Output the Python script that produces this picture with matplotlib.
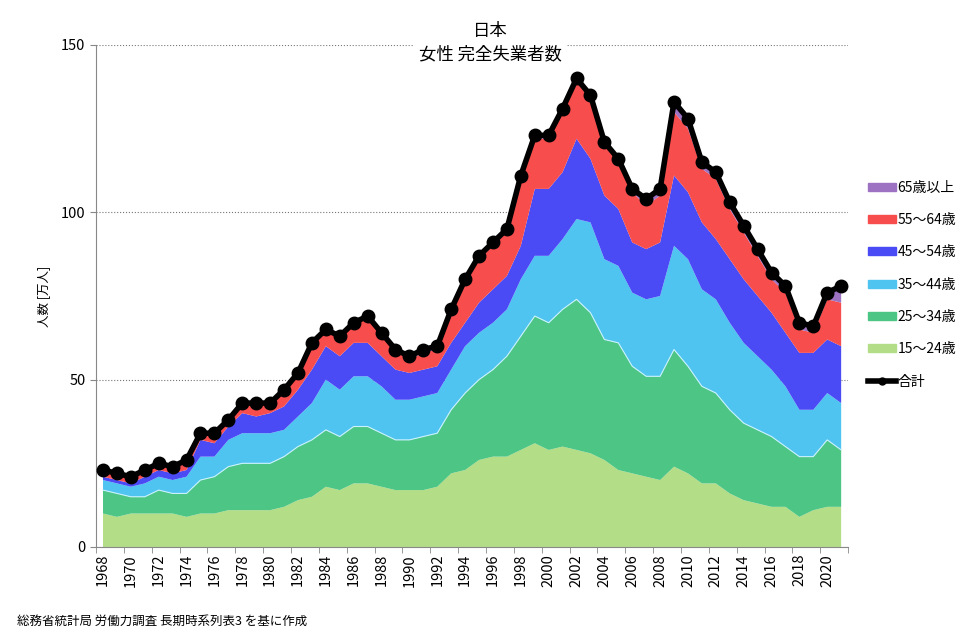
import matplotlib
matplotlib.use('Agg')
import matplotlib.pyplot as plt
from matplotlib.patches import Patch
from matplotlib.lines import Line2D

plt.rcParams['font.family'] = ['Noto Sans CJK JP', 'DejaVu Sans']

years = list(range(1968, 2022))

# 女性 完全失業者数 [万人] by age group
age_15_24 = [10, 9, 10, 10, 10, 10, 9, 10, 10, 11, 11, 11, 11, 12, 14, 15, 18, 17, 19, 19,
             18, 17, 17, 17, 18, 22, 23, 26, 27, 27, 29, 31, 29, 30, 29, 28, 26, 23, 22, 21,
             20, 24, 22, 19, 19, 16, 14, 13, 12, 12, 9, 11, 12, 12]
age_25_34 = [7, 7, 5, 5, 7, 6, 7, 10, 11, 13, 14, 14, 14, 15, 16, 17, 17, 16, 17, 17,
             16, 15, 15, 16, 16, 19, 23, 24, 26, 30, 34, 38, 38, 41, 45, 42, 36, 38, 32, 30,
             31, 35, 32, 29, 27, 25, 23, 22, 21, 18, 18, 16, 20, 17]
age_35_44 = [3, 3, 3, 4, 4, 4, 5, 7, 6, 8, 9, 9, 9, 8, 9, 11, 15, 14, 15, 15,
             14, 12, 12, 12, 12, 12, 14, 14, 14, 14, 17, 18, 20, 21, 24, 27, 24, 23, 22, 23,
             24, 31, 32, 29, 28, 26, 24, 22, 20, 18, 14, 14, 14, 14]
age_45_54 = [1, 1, 1, 2, 2, 2, 2, 5, 4, 4, 6, 5, 6, 7, 8, 10, 10, 10, 10, 10,
             9, 9, 8, 8, 8, 8, 7, 9, 10, 10, 10, 20, 20, 20, 24, 19, 19, 17, 15, 15,
             16, 21, 20, 20, 18, 19, 19, 18, 17, 16, 17, 17, 16, 17]
age_55_64 = [2, 2, 2, 2, 2, 2, 3, 2, 3, 2, 3, 4, 3, 5, 5, 8, 5, 6, 6, 8,
             7, 6, 4, 5, 5, 9, 12, 13, 13, 13, 20, 15, 15, 18, 17, 18, 15, 14, 15, 13,
             14, 19, 19, 16, 18, 15, 14, 12, 10, 12, 7, 6, 12, 13]
age_65_up = [0, 0, 0, 0, 0, 0, 0, 0, 0, 0, 0, 0, 0, 0, 0, 0, 0, 0, 0, 0,
             0, 0, 1, 1, 1, 1, 1, 1, 1, 1, 1, 1, 1, 1, 1, 1, 1, 1, 1, 2,
             2, 3, 3, 2, 2, 2, 2, 2, 2, 2, 2, 2, 2, 5]
total = [23, 22, 21, 23, 25, 24, 26, 34, 34, 38, 43, 43, 43, 47, 52, 61, 65, 63, 67, 69,
         64, 59, 57, 59, 60, 71, 80, 87, 91, 95, 111, 123, 123, 131, 140, 135, 121, 116, 107, 104,
         107, 133, 128, 115, 112, 103, 96, 89, 82, 78, 67, 66, 76, 78]

labels = ['15～24歳', '25～34歳', '35～44歳', '45～54歳', '55～64歳', '65歳以上']
colors = ['#b3dd87', '#4dc584', '#4fc4f1', '#4b4bf6', '#f84d4d', '#9d72c2']

fig = plt.figure(figsize=(9.78, 6.39), dpi=100)
ax = fig.add_axes([0.0982, 0.144, 0.769, 0.7856])

ax.stackplot(years, age_15_24, age_25_34, age_35_44, age_45_54, age_55_64, age_65_up,
             colors=colors, linewidth=0)
# thin light edge on top of the 25-34 band
lower2 = [a + b for a, b in zip(age_15_24, age_25_34)]
ax.plot(years, lower2, color='#c8f2ff', lw=0.8)
ax.plot(years, total, color='black', lw=4, marker='o', markersize=9, zorder=5)

ax.set_xlim(1967.5, 2021.5)
ax.set_ylim(0, 150)
ax.set_yticks([0, 50, 100, 150])
ax.set_xticks(list(range(1968, 2022, 2)))
ax.set_xticks([y + 0.5 for y in range(1967, 2022, 2)], minor=True)
ax.tick_params(axis='x', which='major', length=0, rotation=90, labelsize=10.5, pad=5)
ax.tick_params(axis='x', which='minor', length=4, color='#888888')
ax.tick_params(axis='y', length=4, color='#888888', labelsize=10.5)
ax.grid(axis='y', linestyle=':', color='#777777', lw=0.8)
ax.set_axisbelow(True)
for s in ['top', 'right']:
    ax.spines[s].set_visible(False)
for s in ['left', 'bottom']:
    ax.spines[s].set_color('#888888')

ax.set_ylabel('人数 [万人]', fontsize=9, labelpad=8)

fig.text(0.501, 0.952, '日本', ha='center', va='center', fontsize=12.5)
fig.text(0.501, 0.915, '女性 完全失業者数', ha='center', va='center', fontsize=12.5,
         bbox=dict(facecolor='white', edgecolor='none', pad=3))

handles = [Patch(color=c) for c in colors[::-1]]
handles.append(Line2D([0], [0], color='black', lw=4, marker='o', markersize=5))
fig.legend(handles, labels[::-1] + ['合計'], loc='upper left', bbox_to_anchor=(0.882, 0.726),
           frameon=False, fontsize=10, handlelength=2.0, handleheight=0.5,
           handletextpad=0.1, labelspacing=1.32, borderaxespad=0)

fig.text(0.017, 0.022, '総務省統計局 労働力調査 長期時系列表3 を基に作成', fontsize=9)

fig.savefig('out.png', dpi=100)
